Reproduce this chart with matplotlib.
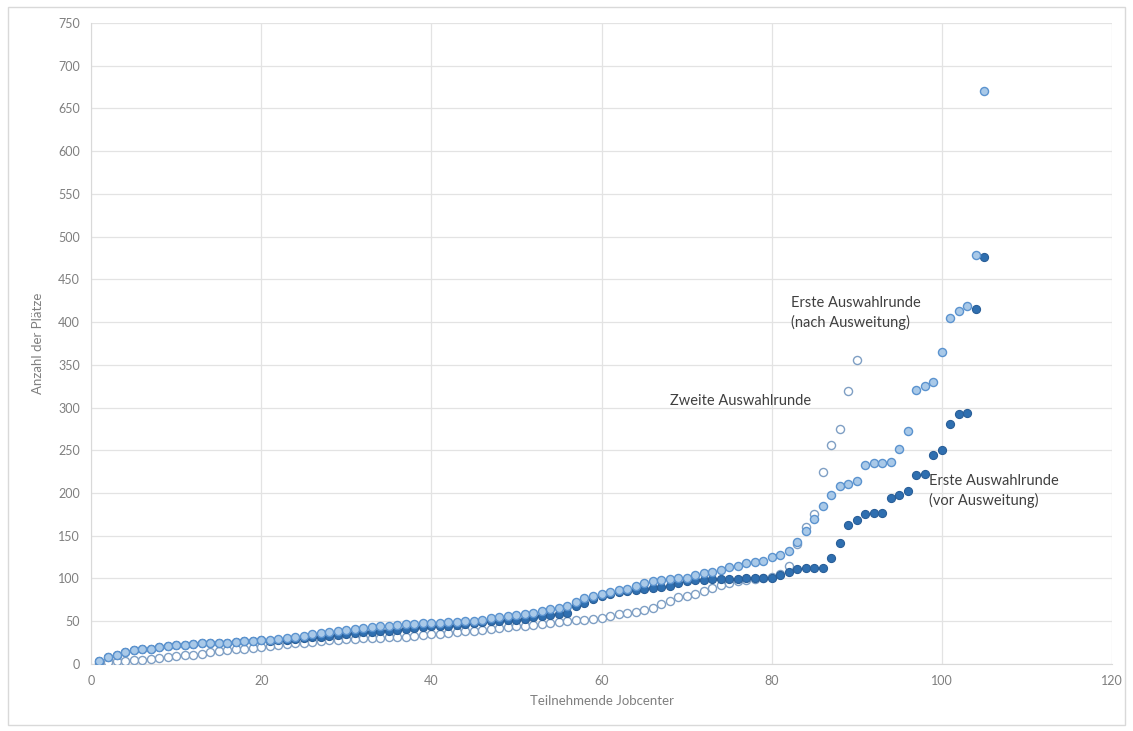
import matplotlib

matplotlib.use("Agg")
import matplotlib.pyplot as plt
from matplotlib.patches import Rectangle
import numpy as np

plt.rcParams["font.family"] = ["Lato", "DejaVu Sans"]

# Erste Auswahlrunde (nach Ausweitung), Jobcenter 1..105
nach = [3, 8, 11, 14, 16, 17, 18, 20, 21, 22, 22, 23, 24, 24, 25, 25, 26, 27, 27, 28,
        28, 29, 30, 31, 33, 35, 36, 37, 38, 40, 41, 42, 43, 44, 45, 46, 47, 47, 48, 48,
        48, 49, 49, 50, 50, 52, 54, 55, 56, 57, 58, 60, 62, 64, 66, 68, 73, 77, 80, 82,
        84, 86, 88, 91, 95, 97, 98, 99, 100, 101, 104, 106, 108, 110, 113, 115, 118, 119, 121, 125,
        128, 132, 143, 155, 170, 185, 198, 208, 211, 214, 233, 235, 235, 236, 252, 273, 320, 325, 330, 365,
        405, 413, 419, 478, 670]

# Erste Auswahlrunde (vor Ausweitung)
vor = [3, 8, 11, 14, 16, 17, 18, 20, 21, 22, 22, 23, 24, 24, 25, 25, 26, 27, 27, 28,
       27, 28, 28, 29, 30, 31, 32, 33, 34, 35, 36, 37, 37, 38, 39, 40, 41, 42, 43, 44,
       45, 45, 46, 47, 48, 49, 50, 50, 51, 52, 53, 55, 56, 57, 58, 60, 68, 71, 76, 80,
       82, 84, 85, 86, 88, 89, 90, 91, 95, 97, 98, 98, 99, 99, 99, 99, 100, 100, 100, 101,
       104, 108, 111, 112, 112, 112, 124, 141, 163, 169, 176, 177, 177, 194, 198, 202, 221, 222, 245, 250,
       281, 292, 294, 415, 476]

# Zweite Auswahlrunde
zweite = [1, 2, 3, 4, 5, 5, 6, 7, 8, 9, 10, 11, 12, 14, 15, 16, 17, 18, 19, 20,
          21, 22, 23, 24, 25, 26, 27, 28, 28, 29, 29, 30, 30, 30, 31, 31, 32, 33, 34, 35,
          35, 36, 37, 38, 39, 40, 41, 42, 43, 44, 45, 46, 47, 48, 49, 50, 51, 52, 53, 54,
          56, 58, 60, 61, 63, 66, 70, 74, 78, 80, 82, 85, 89, 92, 95, 97, 98, 99, 100, 102,
          105, 115, 140, 160, 176, 225, 256, 275, 319, 356]

x_nach = np.arange(1, len(nach) + 1)
x_vor = np.arange(1, len(vor) + 1)
x_zweite = np.arange(1, len(zweite) + 1)

fig = plt.figure(figsize=(11.33, 7.31), dpi=100, facecolor="white")
ax = fig.add_axes([0.0803, 0.0917, 0.9012, 0.877])

ax.scatter(x_zweite, zweite, s=34, facecolor="white", edgecolor="#7f9fc4", linewidth=1.0, zorder=3)
ax.scatter(x_vor, vor, s=34, facecolor="#2f6fb0", edgecolor="#2a5f98", linewidth=0.8, zorder=4)
ax.scatter(x_nach, nach, s=34, facecolor="#a9c9e8", edgecolor="#5b93cf", linewidth=1.0, zorder=5)

ax.set_xlim(0, 120)
ax.set_ylim(0, 750)
ax.set_xticks(np.arange(0, 121, 20))
ax.set_yticks(np.arange(0, 751, 50))
ax.grid(color="#e3e3e3", linewidth=0.9, zorder=0)
ax.set_axisbelow(True)
for side in ("top", "right"):
    ax.spines[side].set_visible(False)
for side in ("left", "bottom"):
    ax.spines[side].set_color("#d9d9d9")
ax.tick_params(length=0, labelsize=9, colors="#7f7f7f", pad=8)

ax.set_xlabel("Teilnehmende Jobcenter", fontsize=9.5, color="#7f7f7f", labelpad=6)
ax.set_ylabel("Anzahl der Plätze", fontsize=9.5, color="#7f7f7f", labelpad=10)

ax.text(82.3, 430, "Erste Auswahlrunde\n(nach Ausweitung)", fontsize=10.5, color="#404040",
        va="top", ha="left", linespacing=1.4)
ax.text(68.0, 308, "Zweite Auswahlrunde", fontsize=10.5, color="#404040", va="center", ha="left")
ax.text(98.5, 222, "Erste Auswahlrunde\n(vor Ausweitung)", fontsize=10.5, color="#404040",
        va="top", ha="left", linespacing=1.4)

fig.patches.append(Rectangle((0.007, 0.008), 0.986, 0.982, transform=fig.transFigure,
                             fill=False, edgecolor="#d9d9d9", linewidth=1.0))

fig.savefig("out.png", dpi=100, facecolor="white")
